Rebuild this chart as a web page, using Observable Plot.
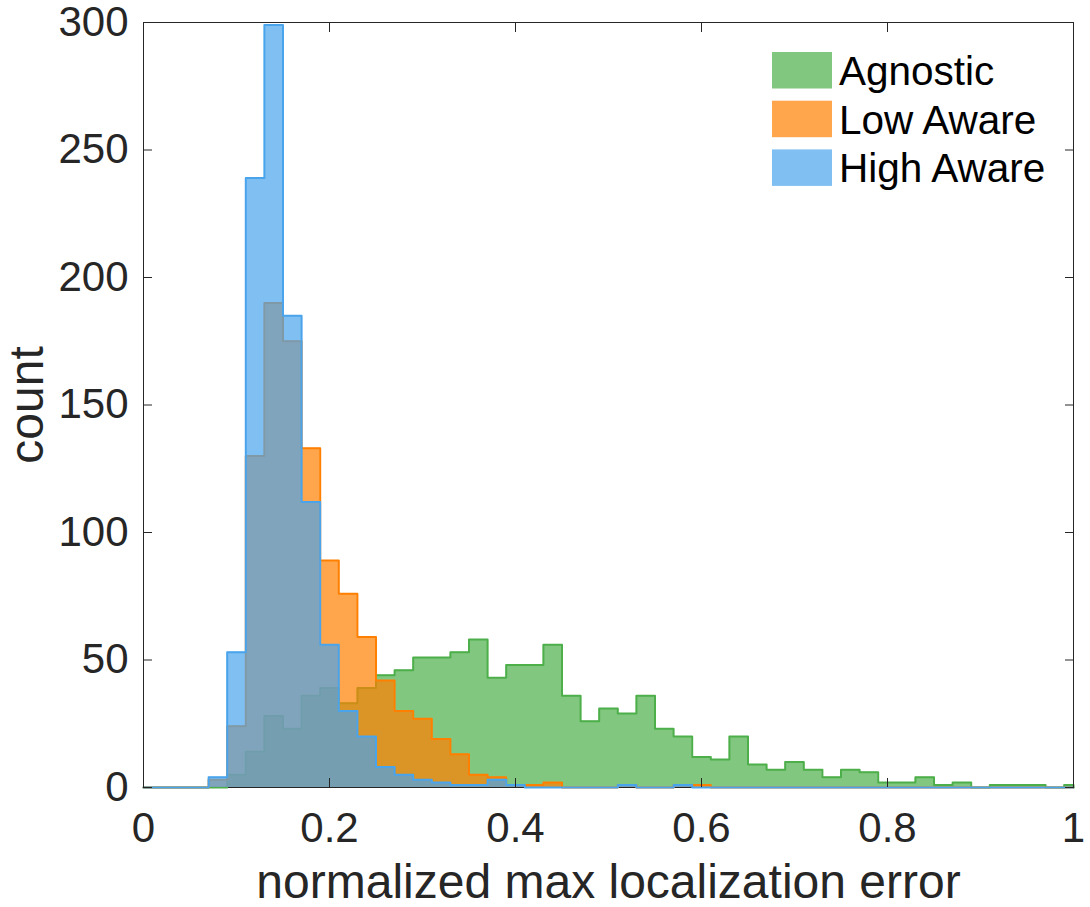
<!DOCTYPE html>
<html>
<head>
<meta charset="utf-8">
<script src="https://cdn.jsdelivr.net/npm/d3@7"></script>
<script src="https://cdn.jsdelivr.net/npm/@observablehq/plot@0.6"></script>
<style>
  body { margin: 0; background: #fff; }
  #wrap { position: relative; width: 1090px; height: 907px; font-family: "Liberation Sans", Arial, Helvetica, sans-serif; }
  #wrap svg { position: absolute; left: 0; top: 0; }
</style>
</head>
<body>
<div id="wrap"></div>
<script>
// ---- data ----
const seriesNames = ["Agnostic", "Low Aware", "High Aware"];
const seriesColors = ["#4DAF4A", "#FF8000", "#4AA4EC"];
// histogram bins: first bin starts at -0.01, each 0.02 wide (51 bins)
const binStart = -0.01;
const binWidth = 0.02;
const agnostic = [0,0,0,0,0, 5,14,28,23,36, 39,33,39,44,46, 51,51,53,58,43, 48,48,56,36,26, 31,29,36,23,20, 12,11,20,9,7, 10,7,4,7,6, 2,2,4,1,2, 0,1,1,1,0, 1];
const lowAware = [0,0,0,0,3, 24,130,190,175,133, 89,76,59,42,30, 27,19,13,5,4, 1,1,2,0,0, 0,1,0,0,1, 1,0,0,0,0, 0,0,0,0,0, 0,0,0,0,0, 0,0,0,0,0, 0];
const highAware = [0,0,0,0,4, 53,239,299,185,112, 56,30,20,8,5, 3,2,1,1,3, 1,0,0,0,0, 0,1,0,0,1, 0,0,0,0,0, 0,0,0,0,0, 0,0,0,0,0, 0,0,0,0,0, 0];
const xTicks = [0, 0.2, 0.4, 0.6, 0.8, 1];
const xTickLabels = ["0", "0.2", "0.4", "0.6", "0.8", "1"];
const yTicks = [0, 50, 100, 150, 200, 250, 300];
const xLabel = "normalized max localization error";
const yLabel = "count";
const xDomain = [0, 1];
const yDomain = [0, 300];

// ---- build stair outlines from bins ----
const clampX = v => Math.max(xDomain[0], Math.min(xDomain[1], v));
function stairs(counts) {
  const pts = [{x: clampX(binStart), y: 0}];
  counts.forEach((c, i) => {
    pts.push({x: clampX(binStart + i * binWidth), y: c});
    pts.push({x: clampX(binStart + (i + 1) * binWidth), y: c});
  });
  pts.push({x: clampX(binStart + counts.length * binWidth), y: 0});
  return pts;
}
const allCounts = [agnostic, lowAware, highAware];
const ink = "#262626";
const fontFamily = '"Liberation Sans", Arial, Helvetica, sans-serif';

const marks = [Plot.frame({stroke: ink, strokeWidth: 1})];
allCounts.forEach((counts, i) => {
  const pts = stairs(counts);
  marks.push(Plot.areaY(pts, {x: "x", y1: 0, y2: "y", fill: seriesColors[i], fillOpacity: 0.7, curve: "linear"}));
  marks.push(Plot.lineY(pts, {x: "x", y: "y", stroke: seriesColors[i], strokeWidth: 2, curve: "linear"}));
});
// inward ticks on all four sides
marks.push(Plot.axisX(xTicks, {anchor: "bottom", tickSize: -9, tickFormat: () => "", stroke: ink, label: null}));
marks.push(Plot.axisX(xTicks, {anchor: "top", tickSize: -9, tickFormat: () => "", stroke: ink, label: null}));
marks.push(Plot.axisY(yTicks, {anchor: "left", tickSize: -9, tickFormat: () => "", stroke: ink, label: null}));
marks.push(Plot.axisY(yTicks, {anchor: "right", tickSize: -9, tickFormat: () => "", stroke: ink, label: null}));
// tick labels
marks.push(Plot.axisX(xTicks, {anchor: "bottom", tickSize: 0, tickPadding: 25, fontSize: 42, fill: ink, label: null,
  tickFormat: d => xTickLabels[xTicks.indexOf(d)]}));
marks.push(Plot.axisY(yTicks, {anchor: "left", tickSize: 0, tickPadding: 15, fontSize: 42, fill: ink, label: null, tickFormat: d => String(d)}));
// axis titles
marks.push(Plot.text([xLabel], {frameAnchor: "bottom", text: d => d, dy: 110, lineAnchor: "bottom", fontSize: 48, fill: ink}));
marks.push(Plot.text([yLabel], {frameAnchor: "left", text: d => d, rotate: -90, dx: -101, lineAnchor: "bottom", textAnchor: "middle", fontSize: 48, fill: ink}));

const chart = Plot.plot({
  width: 1090,
  height: 907,
  marginLeft: 143,
  marginRight: 17,
  marginTop: 22,
  marginBottom: 120,
  style: {fontFamily: fontFamily, background: "#fff", overflow: "visible"},
  x: {domain: xDomain, axis: null},
  y: {domain: yDomain, axis: null},
  marks
});
const wrap = document.getElementById("wrap");
wrap.appendChild(chart);

// legend overlay (inside the axes, top-right)
const leg = d3.select(wrap).append("svg")
  .attr("width", 1090).attr("height", 907)
  .style("pointer-events", "none")
  .style("font-family", fontFamily);
seriesNames.forEach((name, i) => {
  leg.append("rect")
    .attr("x", 772).attr("y", 52 + i * 48.7)
    .attr("width", 60).attr("height", 36.5)
    .attr("fill", seriesColors[i]).attr("fill-opacity", 0.7);
  leg.append("text")
    .attr("x", 839).attr("y", 85 + i * 48.5)
    .attr("font-size", 40.5).attr("fill", "#000")
    .text(name);
});
</script>
</body>
</html>
